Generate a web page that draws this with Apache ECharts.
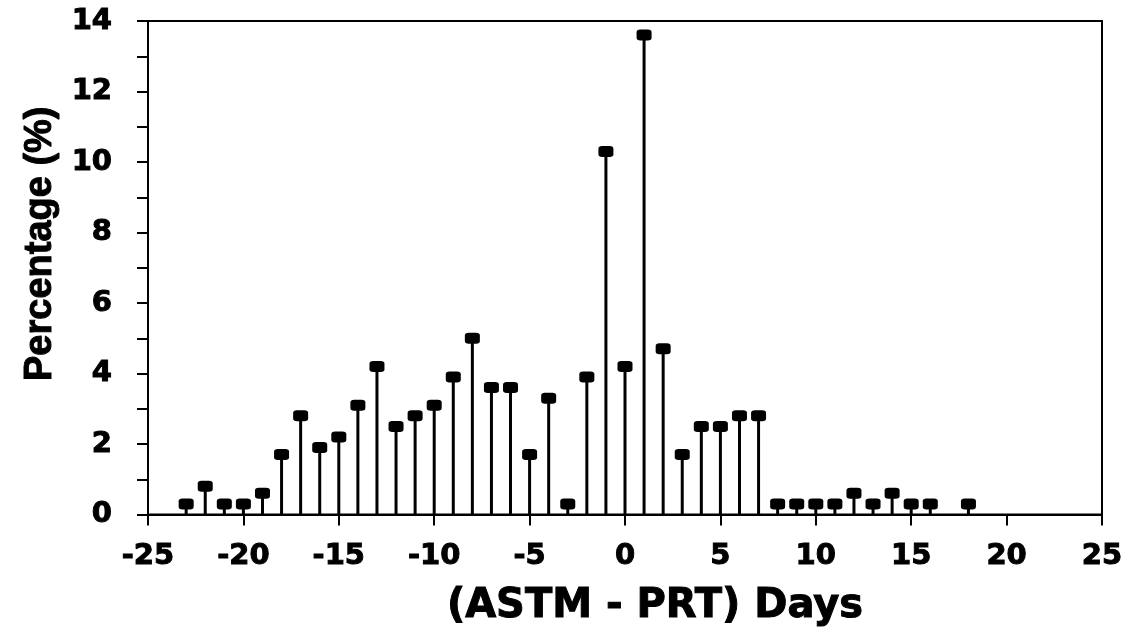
<!DOCTYPE html>
<html>
<head>
<meta charset="utf-8">
<script src="https://cdn.jsdelivr.net/npm/echarts@6/dist/echarts.min.js"></script>
<style>
  html, body { margin: 0; padding: 0; background: #fff; }
  #chart { width: 1127px; height: 632px; }
</style>
</head>
<body>
<div id="chart"></div>
<script>
// days difference (ASTM - PRT)
var days = [-23, -22, -21, -20, -19, -18, -17, -16, -15, -14, -13, -12, -11, -10, -9, -8, -7, -6, -5, -4, -3, -2, -1, 0, 1, 2, 3, 4, 5, 6, 7, 8, 9, 10, 11, 12, 13, 14, 15, 16, 18]
// percentage of samples
var percent = [0.3, 0.8, 0.3, 0.3, 0.6, 1.7, 2.8, 1.9, 2.2, 3.1, 4.2, 2.5, 2.8, 3.1, 3.9, 5.0, 3.6, 3.6, 1.7, 3.3, 0.3, 3.9, 10.3, 4.2, 13.6, 4.7, 1.7, 2.5, 2.5, 2.8, 2.8, 0.3, 0.3, 0.3, 0.3, 0.6, 0.3, 0.6, 0.3, 0.3, 0.3]

var points = days.map(function (d, i) { return [d, percent[i]] })

var heavy = '"DejaVu Sans", "Liberation Sans", sans-serif'
var narrow = '"Liberation Sans", Arial, sans-serif'
// thin outline to make the bold text look blacker
var ink = { color: '#000', fontWeight: 'bold', textBorderColor: '#000', textBorderWidth: 1 }
var chart = echarts.init(document.getElementById('chart'))
chart.setOption({
  animation: false,
  grid: {
    show: true,
    left: 148,
    right: 25,
    top: 21,
    bottom: 112,
    borderColor: '#000',
    borderWidth: 2,
    backgroundColor: '#fff'
  },
  xAxis: {
    type: 'value',
    min: -25,
    max: 25,
    interval: 5,
    name: '(ASTM - PRT) Days',
    nameLocation: 'middle',
    nameGap: 72,
    nameTextStyle: Object.assign({ fontSize: 40, fontFamily: heavy, padding: [0, 0, 0, 60] }, ink),
    axisLine: { onZero: false, lineStyle: { color: '#000', width: 2 } },
    axisTick: { length: 11, lineStyle: { color: '#000', width: 2 } },
    axisLabel: Object.assign({ fontSize: 29, fontFamily: heavy, margin: 27 }, ink),
    splitLine: { show: false }
  },
  yAxis: {
    type: 'value',
    min: 0,
    max: 14,
    interval: 1,
    name: 'Percentage (%)',
    nameLocation: 'middle',
    nameGap: 85,
    nameTextStyle: Object.assign({ fontSize: 38, fontFamily: narrow, padding: [0, 0, 0, 48] }, ink),
    axisLine: { show: true, onZero: false, lineStyle: { color: '#000', width: 2 } },
    axisTick: { length: 11, lineStyle: { color: '#000', width: 2 } },
    axisLabel: Object.assign({
      fontSize: 29, fontFamily: heavy, margin: 36,
      formatter: function (v) { return v % 2 === 0 ? String(v) : '' }
    }, ink),
    splitLine: { show: false }
  },
  series: [
    {
      type: 'bar',
      data: points,
      barWidth: 3,
      z: 2,
      itemStyle: { color: '#000' },
      silent: true
    },
    {
      type: 'scatter',
      data: points,
      symbol: 'roundRect',
      symbolSize: [15, 11],
      z: 3,
      itemStyle: { color: '#000', opacity: 1 },
      silent: true
    }
  ]
})
</script>
</body>
</html>
